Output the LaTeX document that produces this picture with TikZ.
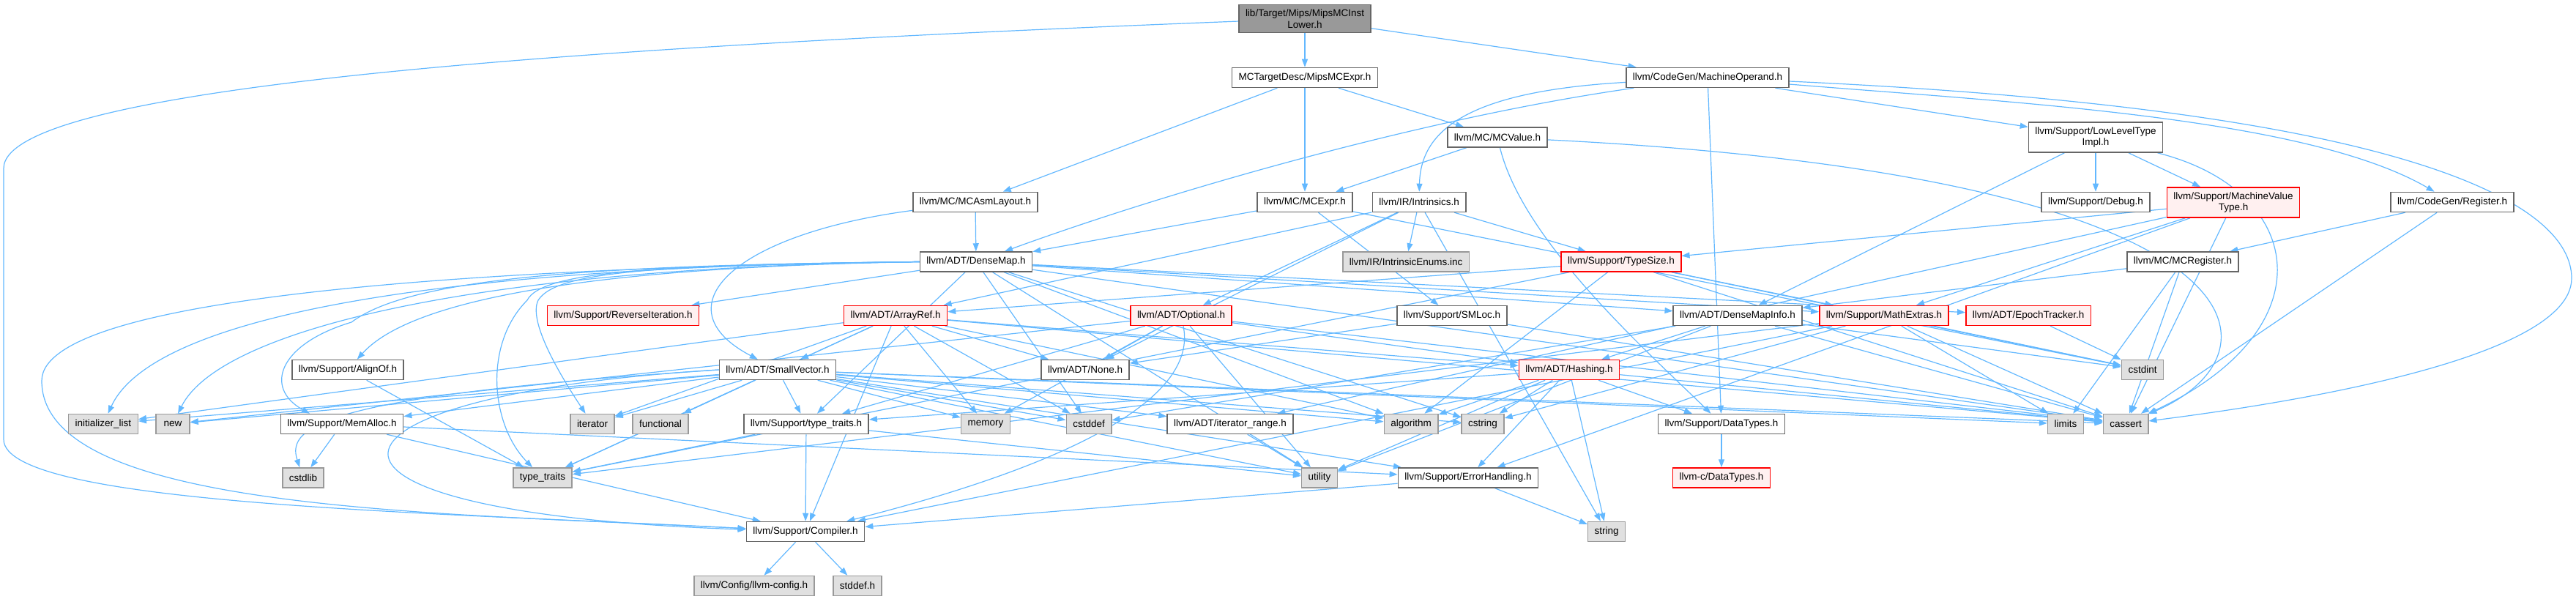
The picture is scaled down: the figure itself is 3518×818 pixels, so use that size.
\documentclass[tikz,border=0pt]{standalone}
\usepackage{fontspec}
\setmainfont{Liberation Sans}
\usetikzlibrary{arrows.meta,backgrounds}

\definecolor{edgeblue}{HTML}{63B8FF}
\definecolor{boxgray}{HTML}{666666}
\definecolor{sysborder}{HTML}{999999}
\definecolor{sysfill}{HTML}{E0E0E0}
\definecolor{redfill}{HTML}{FFF0F0}

\tikzset{
  hdr/.style={draw=boxgray,fill=white,line width=1.5pt,minimum height=27pt,minimum width=46pt,
    inner xsep=9pt,inner ysep=6.5pt,align=center,font=\fontsize{13.5}{15.5}\selectfont},
  hdrred/.style={hdr,draw=red,fill=redfill},
  hdrsys/.style={hdr,draw=sysborder,fill=sysfill},
  hdrtop/.style={hdr,fill=sysborder},
  incl/.style={draw=edgeblue,line width=1.2pt,-{Triangle[length=11pt,width=8pt]}},
}

\begin{document}
\begin{tikzpicture}[x=1pt,y=-1pt]

\useasboundingbox (0,0) rectangle (3518,818);

% ---------------- RANK 0 ----------------

\node[hdrtop] (top) at (1782,25.5) {lib/Target/Mips/MipsMCInst\\Lower.h};

% ---------------- RANK 1 ----------------

\node[hdr] (mipsexpr) at (1782,106) {MCTargetDesc/MipsMCExpr.h};
\node[hdr] (machop) at (2332,106) {llvm/CodeGen/MachineOperand.h};

% ---------------- RANK 2 ----------------

\node[hdr] (mcvalue) at (2045,187.5) {llvm/MC/MCValue.h};
\node[hdr] (lltimpl) at (2862,187.5) {llvm/Support/LowLevelType\\Impl.h};

% ---------------- RANK 3 ----------------

\node[hdr] (asmlayout) at (1332,276) {llvm/MC/MCAsmLayout.h};
\node[hdr] (mcexpr) at (1782,276) {llvm/MC/MCExpr.h};
\node[hdr] (intrinsics) at (1938,276) {llvm/IR/Intrinsics.h};
\node[hdr] (debug) at (2862,276) {llvm/Support/Debug.h};
\node[hdrred] (mvt) at (3050,276.5) {llvm/Support/MachineValue\\Type.h};
\node[hdr] (register) at (3349,276) {llvm/CodeGen/Register.h};

% ---------------- RANK 4 ----------------

\node[hdr] (densemap) at (1333,357.5) {llvm/ADT/DenseMap.h};
\node[hdrsys] (intrenums) at (1920,357.5) {llvm/IR/IntrinsicEnums.inc};
\node[hdrred] (typesize) at (2214,357.5) {llvm/Support/TypeSize.h};
\node[hdr] (mcregister) at (2981,357.5) {llvm/MC/MCRegister.h};

% ---------------- RANK 5 ----------------

\node[hdrred] (reviter) at (851,431) {llvm/Support/ReverseIteration.h};
\node[hdrred] (arrayref) at (1223,431) {llvm/ADT/ArrayRef.h};
\node[hdrred] (optional) at (1613,431) {llvm/ADT/Optional.h};
\node[hdr] (smloc) at (1983,431) {llvm/Support/SMLoc.h};
\node[hdr] (densemapinfo) at (2373,431) {llvm/ADT/DenseMapInfo.h};
\node[hdrred] (mathextras) at (2573,431) {llvm/Support/MathExtras.h};
\node[hdrred] (epoch) at (2770,431) {llvm/ADT/EpochTracker.h};

% ---------------- RANK 6 ----------------

\node[hdr] (alignof) at (475,505) {llvm/Support/AlignOf.h};
\node[hdr] (smallvector) at (1062,505) {llvm/ADT/SmallVector.h};
\node[hdr] (none) at (1482,505) {llvm/ADT/None.h};
\node[hdrred] (hashing) at (2143,505) {llvm/ADT/Hashing.h};
\node[hdrsys] (cstdint) at (2926,505) {cstdint};

% ---------------- RANK 7 ----------------

\node[hdrsys] (initlist) at (141,579) {initializer\_list};
\node[hdrsys] (new) at (236,579) {new};
\node[hdr] (memalloc) at (467,579) {llvm/Support/MemAlloc.h};
\node[hdrsys] (iterator) at (809,579) {iterator};
\node[hdrsys] (functional) at (902,579) {functional};
\node[hdr] (typetraitsh) at (1101,579) {llvm/Support/type\_traits.h};
\node[hdrsys] (memory) at (1346,579) {memory};
\node[hdrsys] (cstddef) at (1487,579) {cstddef};
\node[hdr] (iterrange) at (1680,579) {llvm/ADT/iterator\_range.h};
\node[hdrsys] (algorithm) at (1927,579) {algorithm};
\node[hdrsys] (cstring) at (2025,579) {cstring};
\node[hdr] (datatypes) at (2351,579) {llvm/Support/DataTypes.h};
\node[hdrsys] (limits) at (2821,579) {limits};
\node[hdrsys] (cassert) at (2903,579) {cassert};

% ---------------- RANK 8 ----------------

\node[hdrsys] (cstdlib) at (414,652.5) {cstdlib};
\node[hdrsys] (typetraits) at (741,652.5) {type\_traits};
\node[hdrsys] (utility) at (1802,652.5) {utility};
\node[hdr] (errorhandling) at (2005,652.5) {llvm/Support/ErrorHandling.h};
\node[hdrred] (cdatatypes) at (2351,652.5) {llvm-c/DataTypes.h};

% ---------------- RANK 9 / 10 ----------------

\node[hdr] (compiler) at (1100,726) {llvm/Support/Compiler.h};
\node[hdrsys] (string) at (2194,726) {string};

\node[hdrsys] (llvmconfig) at (1030,800) {llvm/Config/llvm-config.h};
\node[hdrsys] (stddef) at (1171,800) {stddef.h};

% ---------------- INCLUDE EDGES ----------------

\begin{scope}[on background layer]

\draw[incl] (top)--(mipsexpr);
\draw[incl] (top)--(machop);
\draw[incl] (top) .. controls (900,60) and (5,110) .. (5,230) -- (5,600) .. controls (5,690) and (600,700) .. (compiler);

\draw[incl] (mipsexpr)--(asmlayout);
\draw[incl] (mipsexpr)--(mcexpr);
\draw[incl] (mipsexpr)--(mcvalue);

\draw[incl] (machop) .. controls (1950,160) and (1600,260) .. (densemap);
\draw[incl] (machop) .. controls (2000,125) and (1940,180) .. (intrinsics);
\draw[incl] (machop)--(lltimpl);
\draw[incl] (machop) .. controls (2750,140) and (3150,160) .. (register);
\draw[incl] (machop)--(datatypes);
\draw[incl] (machop) .. controls (3300,150) and (3512,280) .. (3512,380) .. controls (3512,500) and (3050,560) .. (cassert);

\draw[incl] (mcvalue)--(mcexpr);
\draw[incl] (mcvalue) .. controls (2080,330) and (2250,480) .. (datatypes);
\draw[incl] (mcvalue) .. controls (3100,240) and (3130,480) .. (cassert);

\draw[incl] (lltimpl)--(densemapinfo);
\draw[incl] (lltimpl)--(debug);
\draw[incl] (lltimpl)--(mvt);
\draw[incl] (lltimpl) .. controls (3150,260) and (3180,450) .. (cassert);

\draw[incl] (asmlayout)--(densemap);
\draw[incl] (asmlayout) .. controls (1000,320) and (900,420) .. (smallvector);

\draw[incl] (mcexpr)--(densemap);
\draw[incl] (mcexpr)--(smloc);
\draw[incl] (mcexpr)--(cstdint);

\draw[incl] (intrinsics)--(arrayref);
\draw[incl] (intrinsics)--(none);
\draw[incl] (intrinsics)--(optional);
\draw[incl] (intrinsics)--(typesize);
\draw[incl] (intrinsics)--(intrenums);
\draw[incl] (intrinsics)--(string);

\draw[incl] (mvt)--(iterrange);
\draw[incl] (mvt)--(errorhandling);
\draw[incl] (mvt)--(mathextras);
\draw[incl] (mvt)--(typesize);
\draw[incl] (mvt)--(cassert);

\draw[incl] (register)--(mcregister);
\draw[incl] (register)--(cassert);

\draw[incl] (densemap)--(densemapinfo);
\draw[incl] (densemap)--(epoch);
\draw[incl] (densemap.west) .. controls (800,365) and (560,410) .. (alignof);
\draw[incl] (densemap.west) .. controls (700,365) and (57,400) .. (57,520) .. controls (57,700) and (600,700) .. (compiler);
\draw[incl] (densemap)--(mathextras);
\draw[incl] (densemap.west) .. controls (800,362) and (560,380) .. (480,440) .. controls (380,470) and (360,530) .. ([xshift=-44pt]memalloc.north);
\draw[incl] (densemap)--(reviter);
\draw[incl] (densemap)--(typetraitsh);
\draw[incl] (densemap)--(algorithm);
\draw[incl] (densemap)--(cassert);
\draw[incl] (densemap)--(cstddef);
\draw[incl] (densemap)--(cstring);
\draw[incl] (densemap.west) .. controls (500,365) and (200,450) .. (initlist);
\draw[incl] (densemap.west) .. controls (900,362) and (760,370) .. (735,410) .. controls (720,440) and (770,520) .. (iterator);
\draw[incl] (densemap.west) .. controls (650,365) and (300,450) .. (new);
\draw[incl] (densemap.west) .. controls (900,362) and (740,370) .. (720,410) .. controls (660,470) and (670,580) .. (typetraits);
\draw[incl] (densemap)--(utility);

\draw[incl] (typesize)--(arrayref);
\draw[incl] (typesize)--(mathextras);
\draw[incl] (typesize)--(algorithm);
\draw[incl] (typesize)--(cassert);
\draw[incl] (typesize)--(cstdint);
\draw[incl] (typesize)--(typetraits);

\draw[incl] (mcregister)--(densemapinfo);
\draw[incl] (mcregister)--(cassert);
\draw[incl] (mcregister)--(limits);

\draw[incl] (arrayref)--(hashing);
\draw[incl] (arrayref)--(none);
\draw[incl] (arrayref)--(smallvector);
\draw[incl] (arrayref)--(compiler);
\draw[incl] (arrayref)--(algorithm);
\draw[incl] (arrayref)--(cassert);
\draw[incl] (arrayref)--(cstddef);
\draw[incl] (arrayref)--(initlist);
\draw[incl] (arrayref)--(iterator);
\draw[incl] (arrayref)--(memory);
\draw[incl] (arrayref)--(typetraits);

\draw[incl] (optional)--(hashing);
\draw[incl] (optional)--(none);
\draw[incl] (optional) .. controls (1640,560) and (1400,650) .. (compiler);
\draw[incl] (optional)--(typetraitsh);
\draw[incl] (optional)--(cassert);
\draw[incl] (optional)--(memory);
\draw[incl] (optional)--(new);
\draw[incl] (optional)--(utility);

\draw[incl] (smloc)--(none);
\draw[incl] (smloc)--(cassert);

\draw[incl] (densemapinfo)--(hashing);
\draw[incl] (densemapinfo)--(cassert);
\draw[incl] (densemapinfo)--(cstddef);
\draw[incl] (densemapinfo)--(cstdint);
\draw[incl] (densemapinfo)--(utility);

\draw[incl] (mathextras)--(compiler);
\draw[incl] (mathextras)--(cassert);
\draw[incl] (mathextras)--(cstdint);
\draw[incl] (mathextras)--(cstring);
\draw[incl] (mathextras)--(limits);
\draw[incl] (mathextras)--(typetraits);

\draw[incl] (epoch)--(cstdint);

\draw[incl] (alignof)--(typetraits);

\draw[incl] (smallvector)--(iterrange);
\draw[incl] (smallvector.west) .. controls (400,540) and (350,700) .. (compiler);
\draw[incl] (smallvector)--(errorhandling);
\draw[incl] (smallvector)--(memalloc);
\draw[incl] (smallvector)--(typetraitsh);
\draw[incl] (smallvector)--(algorithm);
\draw[incl] (smallvector)--(cassert);
\draw[incl] (smallvector)--(cstddef);
\draw[incl] (smallvector.west) .. controls (450,540) and (390,580) .. (cstdlib);
\draw[incl] (smallvector)--(cstring);
\draw[incl] (smallvector)--(functional);
\draw[incl] (smallvector)--(initlist);
\draw[incl] (smallvector)--(iterator);
\draw[incl] (smallvector)--(limits);
\draw[incl] (smallvector)--(memory);
\draw[incl] (smallvector)--(new);
\draw[incl] (smallvector)--(typetraits);
\draw[incl] (smallvector)--(utility);

\draw[incl] (hashing)--(datatypes);
\draw[incl] (hashing)--(errorhandling);
\draw[incl] (hashing)--(typetraitsh);
\draw[incl] (hashing)--(algorithm);
\draw[incl] (hashing)--(cassert);
\draw[incl] (hashing)--(cstring);
\draw[incl] (hashing)--(string);
\draw[incl] (hashing)--(utility);

\draw[incl] (memalloc)--(compiler);
\draw[incl] (memalloc)--(errorhandling);
\draw[incl] (memalloc)--(cstdlib);

\draw[incl] (typetraitsh)--(compiler);
\draw[incl] (typetraitsh)--(typetraits);
\draw[incl] (typetraitsh)--(utility);

\draw[incl] (iterrange)--(utility);
\draw[incl] (datatypes)--(cdatatypes);

\draw[incl] (errorhandling)--(compiler);
\draw[incl] (errorhandling)--(string);

\draw[incl] (compiler)--(llvmconfig);
\draw[incl] (compiler)--(stddef);

\end{scope}

\end{tikzpicture}
\end{document}
